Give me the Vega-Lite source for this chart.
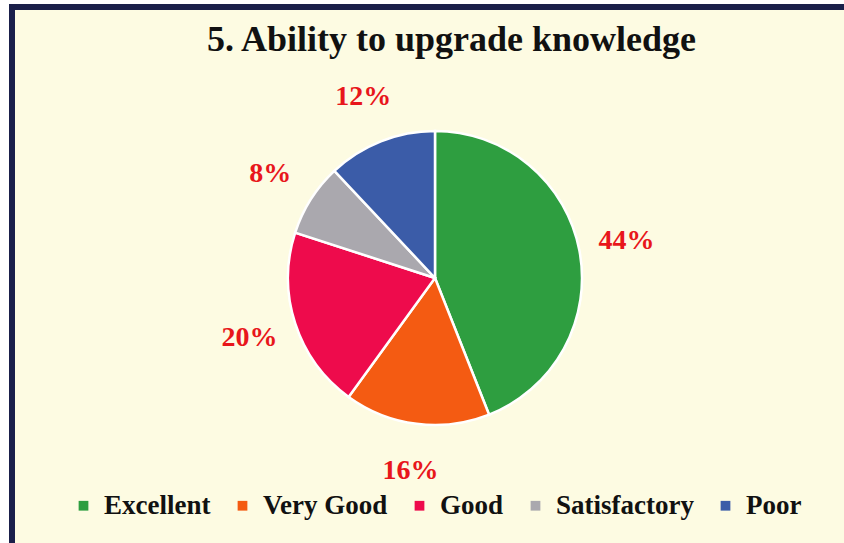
{
  "$schema": "https://vega.github.io/schema/vega-lite/v6.json",
  "autosize": "none",
  "padding": {"left": 12, "top": 7, "right": 40, "bottom": 40},
  "width": 846,
  "height": 542,
  "background": "#ffffff",
  "config": {
    "view": {"stroke": null},
    "font": "Liberation Serif"
  },
  "title": {
    "text": "5. Ability to upgrade knowledge",
    "font": "Liberation Serif",
    "fontSize": 36,
    "fontWeight": "bold",
    "color": "#111111",
    "anchor": "start",
    "offset": -55,
    "dx": 198
  },
  "data": {
    "values": [
      {"rating": "Excellent", "percent": 44, "label": "44%", "order": 1},
      {"rating": "Very Good", "percent": 16, "label": "16%", "order": 2},
      {"rating": "Good", "percent": 20, "label": "20%", "order": 3},
      {"rating": "Satisfactory", "percent": 8, "label": "8%", "order": 4},
      {"rating": "Poor", "percent": 12, "label": "12%", "order": 5}
    ]
  },
  "layer": [
    {
      "data": {"values": [{"frame": 1}]},
      "mark": {"type": "rect", "fill": "#fdfbe2", "stroke": "#1a1f4a", "strokeWidth": 6},
      "encoding": {}
    },
    {
      "mark": {"type": "arc", "outerRadius": 147, "stroke": "#ffffff", "strokeWidth": 2.5},
      "encoding": {
        "theta": {"field": "percent", "type": "quantitative", "stack": true},
        "order": {"field": "order", "type": "quantitative"},
        "color": {
          "field": "rating",
          "type": "nominal",
          "scale": {
            "domain": ["Excellent", "Very Good", "Good", "Satisfactory", "Poor"],
            "range": ["#2e9e40", "#f45b12", "#ee0b4c", "#aaa8ae", "#3b5ca8"]
          },
          "legend": {
            "title": null,
            "orient": "none",
            "legendX": 58,
            "legendY": 485,
            "direction": "horizontal",
            "symbolType": "square",
            "symbolSize": 95,
            "symbolStrokeWidth": 0,
            "labelFont": "Liberation Serif",
            "labelFontSize": 27,
            "labelFontWeight": "bold",
            "labelColor": "#111111",
            "labelOffset": 7,
            "columnPadding": 18,
            "labelLimit": 300
          }
        }
      }
    },
    {
      "mark": {
        "type": "text",
        "radius": 195,
        "font": "Liberation Serif",
        "fontSize": 28,
        "fontWeight": "bold",
        "color": "#e8161b"
      },
      "encoding": {
        "theta": {"field": "percent", "type": "quantitative", "stack": true},
        "order": {"field": "order", "type": "quantitative"},
        "text": {"field": "label", "type": "nominal"},
        "detail": {"field": "rating"}
      }
    }
  ]
}
